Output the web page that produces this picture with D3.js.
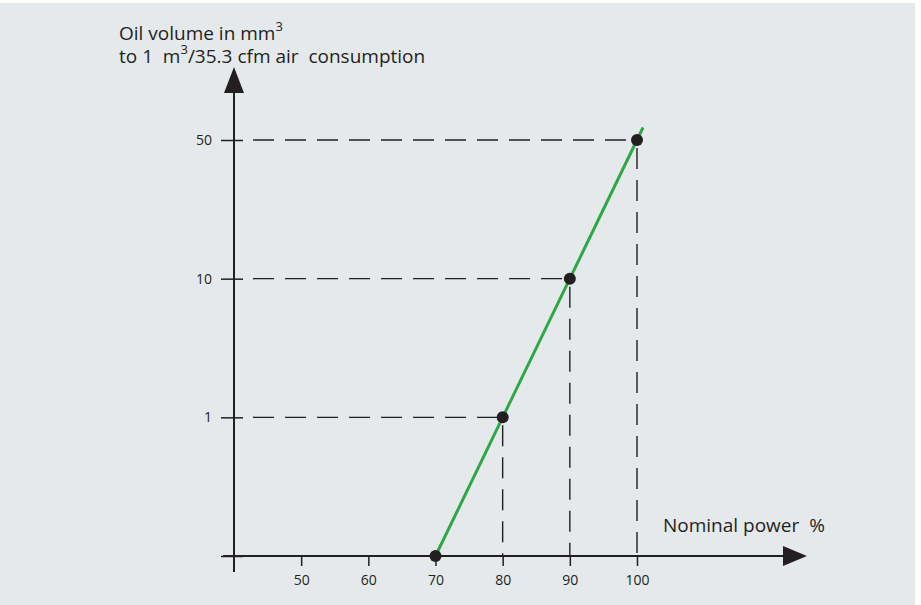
<!DOCTYPE html>
<html>
<head>
<meta charset="utf-8">
<script src="https://cdn.jsdelivr.net/npm/d3@7"></script>
<style>
  html, body { margin: 0; padding: 0; background: #fff; }
  svg { display: block; }
  text { font-family: "Open Sans", "Noto Sans", sans-serif; fill: #231f20; }
</style>
</head>
<body>
<div id="chart"></div>
<script>
// values
const xTicks = [50, 60, 70, 80, 90, 100];
const yLevels = [0.1, 1, 10, 50];
const yTickLabels = ["", "1", "10", "50"];
const power = [70, 80, 90, 100];
const oilVolume = [0.1, 1, 10, 50];

const width = 921, height = 605;
const ink = "#231f20";

const svg = d3.select("#chart").append("svg")
  .attr("width", width)
  .attr("height", height);

// panel background
svg.append("rect")
  .attr("x", 0).attr("y", 3)
  .attr("width", 915).attr("height", height - 3)
  .attr("fill", "#e5e9ec");

const x = d3.scaleLinear().domain([40, 100]).range([234, 637]);
const y = d3.scalePoint().domain(yLevels).range([556, 140]);

const x0 = x(40), yBase = y(yLevels[0]);

// dashed guides from each point to the axes
const guides = svg.append("g")
  .attr("stroke", ink)
  .attr("stroke-width", 1.4)
  .attr("stroke-dasharray", "21,11")
  .attr("fill", "none");

power.forEach((p, i) => {
  if (i === 0) return;
  guides.append("line")
    .attr("x1", x0 + 19).attr("x2", x(p))
    .attr("y1", y(oilVolume[i])).attr("y2", y(oilVolume[i]));
  guides.append("line")
    .attr("x1", x(p)).attr("x2", x(p))
    .attr("y1", y(oilVolume[i]) + 8).attr("y2", yBase);
});

// y axis
const yAxis = svg.append("g")
  .attr("transform", `translate(${x0},0)`)
  .call(d3.axisLeft(y).tickSize(13).tickPadding(9)
    .tickFormat((d, i) => yTickLabels[i]));
yAxis.select(".domain").remove();
yAxis.selectAll(".tick line").attr("x2", -13).attr("x1", 9)
  .attr("stroke", ink).attr("stroke-width", 1.5);
yAxis.selectAll(".tick text").style("font-size", "14px").attr("fill", ink);

// x axis
const xAxis = svg.append("g")
  .attr("transform", `translate(0,${yBase})`)
  .call(d3.axisBottom(x).tickValues(xTicks).tickSize(10).tickPadding(9));
xAxis.select(".domain").remove();
xAxis.selectAll(".tick line").attr("stroke", ink).attr("stroke-width", 1.5);
xAxis.selectAll(".tick text").style("font-size", "14px").attr("fill", ink);

// axis lines with arrow heads
svg.append("line")
  .attr("x1", x0).attr("x2", x0)
  .attr("y1", yBase + 16).attr("y2", 90)
  .attr("stroke", ink).attr("stroke-width", 2);
svg.append("path")
  .attr("d", `M${x0 - 10},93 L${x0},67 L${x0 + 10},93 Z`)
  .attr("fill", ink);

svg.append("line")
  .attr("x1", x0 - 11).attr("x2", 786)
  .attr("y1", yBase).attr("y2", yBase)
  .attr("stroke", ink).attr("stroke-width", 2);
svg.append("path")
  .attr("d", `M783,${yBase - 10} L807,${yBase} L783,${yBase + 10} Z`)
  .attr("fill", ink);

// green line, running a little past the last point
const pts = power.map((p, i) => [x(p), y(oilVolume[i])]);
const n = pts.length;
const ext = 0.09;
const tail = [
  pts[n - 1][0] + (pts[n - 1][0] - pts[n - 2][0]) * ext,
  pts[n - 1][1] + (pts[n - 1][1] - pts[n - 2][1]) * ext
];
svg.append("path")
  .datum(pts.concat([tail]))
  .attr("d", d3.line())
  .attr("fill", "none")
  .attr("stroke", "#2da844")
  .attr("stroke-width", 3);

svg.append("g").selectAll("circle")
  .data(pts)
  .join("circle")
  .attr("cx", d => d[0]).attr("cy", d => d[1])
  .attr("r", 6)
  .attr("fill", ink);

// titles
const l1 = svg.append("text").style("font-size", "19px").attr("x", 119).attr("y", 40);
l1.append("tspan").text("Oil volume in mm");
l1.append("tspan").attr("dy", -9).style("font-size", "13px").text("3");
const l2 = svg.append("text").style("font-size", "19px").attr("x", 119).attr("y", 63);
l2.append("tspan").text("to 1\u00a0 m");
l2.append("tspan").attr("dy", -9).style("font-size", "13px").text("3");
l2.append("tspan").attr("dy", 9).text("/35.3 cfm air\u00a0 consumption");

svg.append("text")
  .attr("x", 663).attr("y", 532)
  .style("font-size", "19px")
  .text("Nominal power\u00a0 %");
</script>
</body>
</html>
